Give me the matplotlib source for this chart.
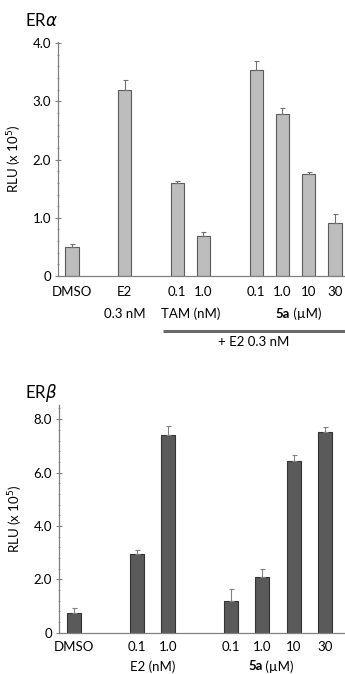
import matplotlib
matplotlib.use('Agg')
import matplotlib.pyplot as plt
from matplotlib.ticker import MultipleLocator, FixedLocator, FixedFormatter
import numpy as np

plt.rcParams['font.family'] = ['Lato', 'DejaVu Sans']
plt.rcParams['mathtext.fontset'] = 'dejavusans'

# ER alpha panel
alpha_pos = [0, 2, 4, 5, 7, 8, 9, 10]
alpha_labels = ['DMSO', 'E2', '0.1', '1.0', '0.1', '1.0', '10', '30']
alpha_vals = [0.49, 3.19, 1.59, 0.68, 3.54, 2.79, 1.76, 0.91]
alpha_err = [0.06, 0.17, 0.05, 0.07, 0.16, 0.09, 0.03, 0.16]

# ER beta panel
beta_pos = [0, 2, 3, 5, 6, 7, 8]
beta_labels = ['DMSO', '0.1', '1.0', '0.1', '1.0', '10', '30']
beta_vals = [0.72, 2.94, 7.39, 1.19, 2.08, 6.43, 7.51]
beta_err = [0.19, 0.14, 0.34, 0.45, 0.30, 0.22, 0.19]

W, H = 345, 674
FS = 9.5
fig = plt.figure(figsize=(W / 100, H / 100), dpi=100)

def style_axes(ax, ymax, major, minor, ticklabels, pad):
    for s in ['top', 'right']:
        ax.spines[s].set_visible(False)
    for s in ['left', 'bottom']:
        ax.spines[s].set_color('#808080')
        ax.spines[s].set_linewidth(0.9)
    ax.set_ylim(0, ymax)
    ax.yaxis.set_major_locator(FixedLocator(major))
    ax.yaxis.set_major_formatter(FixedFormatter(ticklabels))
    ax.yaxis.set_minor_locator(MultipleLocator(minor))
    ax.tick_params(axis='y', which='major', length=4, width=0.8, color='#808080',
                   direction='inout', labelsize=FS, pad=3)
    ax.tick_params(axis='y', which='minor', length=1.5, width=0.6, color='#909090',
                   direction='inout')
    ax.tick_params(axis='x', length=0, labelsize=FS, pad=pad)
    ax.set_ylabel(r'RLU (x 10$^5$)', fontsize=FS, labelpad=6)

def fivea_label(ax, x, y):
    # bold "5a" followed by normal " (µM)"
    tr = ax.get_xaxis_transform()
    ax.text(x, y, '5a', transform=tr, ha='right', va='center',
            fontsize=FS, fontweight='bold')
    ax.text(x, y, ' (µM)', transform=tr, ha='left', va='center', fontsize=FS)

# top panel
ax1 = fig.add_axes([58 / W, 398 / H, 1 - 58 / W, 234 / H])
ax1.bar(alpha_pos, alpha_vals, width=0.5, color='#bdbdbd', edgecolor='#5a5a5a', linewidth=0.8)
ax1.errorbar(alpha_pos, alpha_vals, yerr=[np.zeros(len(alpha_err)), alpha_err], fmt='none',
             ecolor='#707070', elinewidth=0.8, capsize=1.8, capthick=0.8)
ax1.set_xlim(-0.53, 10.38)
style_axes(ax1, 4.02, [0, 1, 2, 3, 4], 0.2, ['0', '1.0', '2.0', '3.0', '4.0'], 7)
ax1.set_xticks(alpha_pos)
ax1.set_xticklabels(alpha_labels)
tr1 = ax1.get_xaxis_transform()
ax1.text(2, -0.162, '0.3 nM', transform=tr1, ha='center', va='center', fontsize=FS)
ax1.text(4.5, -0.162, 'TAM (nM)', transform=tr1, ha='center', va='center', fontsize=FS)
fivea_label(ax1, 8.28, -0.162)
ax1.plot([3.46, 10.38], [-0.235, -0.235], transform=tr1, color='#6a6a6a', lw=2.2,
         clip_on=False, solid_capstyle='butt')
ax1.text(6.9, -0.28, '+ E2 0.3 nM', transform=tr1, ha='center', va='center', fontsize=FS)
fig.text(25 / W, 1 - 20 / H, r'ER$\alpha$', fontsize=12, ha='left', va='center')

# bottom panel
ax2 = fig.add_axes([59 / W, 41.3 / H, 1 - 59 / W, 227.7 / H])
ax2.bar(beta_pos, beta_vals, width=0.45, color='#5a5a5a', edgecolor='#333333', linewidth=0.8)
ax2.errorbar(beta_pos, beta_vals, yerr=[np.zeros(len(beta_err)), beta_err], fmt='none',
             ecolor='#808080', elinewidth=0.8, capsize=1.8, capthick=0.8)
ax2.set_xlim(-0.48, 8.63)
style_axes(ax2, 8.53, [0, 2, 4, 6, 8], 0.4, ['0', '2.0', '4.0', '6.0', '8.0'], 6)
ax2.set_xticks(beta_pos)
ax2.set_xticklabels(beta_labels)
tr2 = ax2.get_xaxis_transform()
ax2.text(2.5, -0.148, 'E2 (nM)', transform=tr2, ha='center', va='center', fontsize=FS)
fivea_label(ax2, 6.0, -0.148)
fig.text(25 / W, 1 - 393 / H, r'ER$\beta$', fontsize=12, ha='left', va='center')

fig.savefig('out.png', dpi=100)
